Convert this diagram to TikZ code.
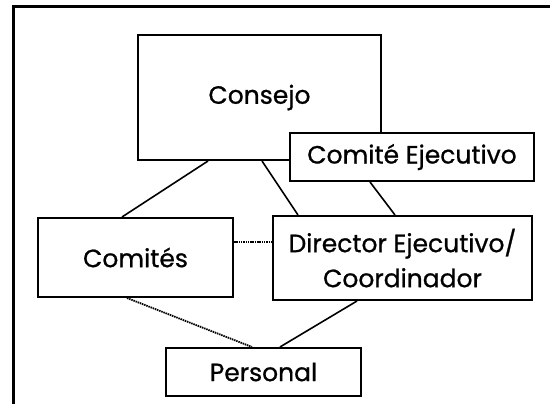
\documentclass[tikz,border=0pt]{standalone}
\usepackage{fontspec}
\setmainfont{Poppins}
\newfontfamily\boxfont{Poppins}[FakeBold=0.8,UprightFeatures={FakeBold=0.8}]
\begin{document}
\begin{tikzpicture}[x=1pt,y=-1pt,
  box/.style={draw,line width=2pt,fill=white,inner sep=0pt,align=center,font=\boxfont\fontsize{25}{35}\selectfont},
  link/.style={line width=1.6pt},
  dotlink/.style={line width=1.8pt,dash pattern=on 1.5pt off 0.8pt}]
\useasboundingbox (0,0) rectangle (550,404);
\draw[line width=3pt] (13,405) -- (13,7) -- (551,7);
\node[box,minimum width=243pt,minimum height=125pt] (consejo) at (259.5,97.5) {Consejo};
\node[box,minimum width=195pt,minimum height=79pt] (comites) at (135.5,257.5) {Comités};
\node[box,minimum width=259pt,minimum height=84pt] (director) at (402.5,258) {Director Ejecutivo/\\Coordinador};
\node[box,minimum width=195pt,minimum height=48pt] (personal) at (263.5,372) {Personal};
\draw[link] ([xshift=71pt]consejo.south west) -- ([xshift=85pt]comites.north west);
\draw[link] ([xshift=125pt]consejo.south west) -- ([xshift=26pt]director.north west);
\draw[dotlink] ([yshift=15.5pt]comites.east) -- ([yshift=16pt]director.west);
\draw[dotlink] ([xshift=90pt]comites.south west) -- ([xshift=87pt]personal.north west);
\draw[link] ([xshift=85pt]director.south west) -- ([xshift=115pt]personal.north west);
\node[box,minimum width=244pt,minimum height=48pt] (ce) at (412,157) {Comité Ejecutivo};
\draw[link] ([xshift=81pt]ce.south west) -- ([xshift=123pt]director.north west);
\end{tikzpicture}
\end{document}
